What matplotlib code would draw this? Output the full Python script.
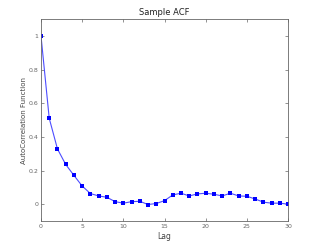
import numpy as np
import matplotlib
matplotlib.use("Agg")
import matplotlib.pyplot as plt

# Sample autocorrelation values
lags = np.arange(0, 31)
acf = [1.0, 0.51, 0.328, 0.236, 0.171, 0.108, 0.063, 0.049, 0.041, 0.015,
       0.006, 0.015, 0.017, -0.002, 0.004, 0.021, 0.055, 0.065, 0.049, 0.061,
       0.065, 0.059, 0.049, 0.065, 0.049, 0.047, 0.031, 0.012, 0.006, 0.006,
       0.0]
xticks = [0, 5, 10, 15, 20, 25, 30]
yticks = [0, 0.2, 0.4, 0.6, 0.8, 1]
yticklabels = ["0", "0.2", "0.4", "0.6", "0.8", "1"]

axis_gray = "#666666"

fig = plt.figure(figsize=(3.19, 2.49), dpi=100)
ax = fig.add_axes([0.1285, 0.1124, 0.7745, 0.8113])

ax.plot(lags, acf, color="#4d4dff", lw=0.8)
ax.plot(lags, acf, "s", color="#0000ff", ms=2.5, mew=0)

ax.set_xlim(0, 30)
ax.set_ylim(-0.1, 1.1)
ax.set_xticks(xticks)
ax.set_yticks(yticks)
ax.set_yticklabels(yticklabels)

ax.tick_params(direction="in", length=2, width=0.5, labelsize=4.5,
               colors=axis_gray, top=True, right=True, pad=2)
for sp in ax.spines.values():
    sp.set_color(axis_gray)
    sp.set_linewidth(0.6)

ax.set_title("Sample ACF", fontsize=6, color="#222222", pad=3)
ax.set_xlabel("Lag", fontsize=5.5, color="#444444", labelpad=2)
ax.set_ylabel("AutoCorrelation Function", fontsize=5, color="#444444", labelpad=1)

fig.savefig("out.png", dpi=100)
